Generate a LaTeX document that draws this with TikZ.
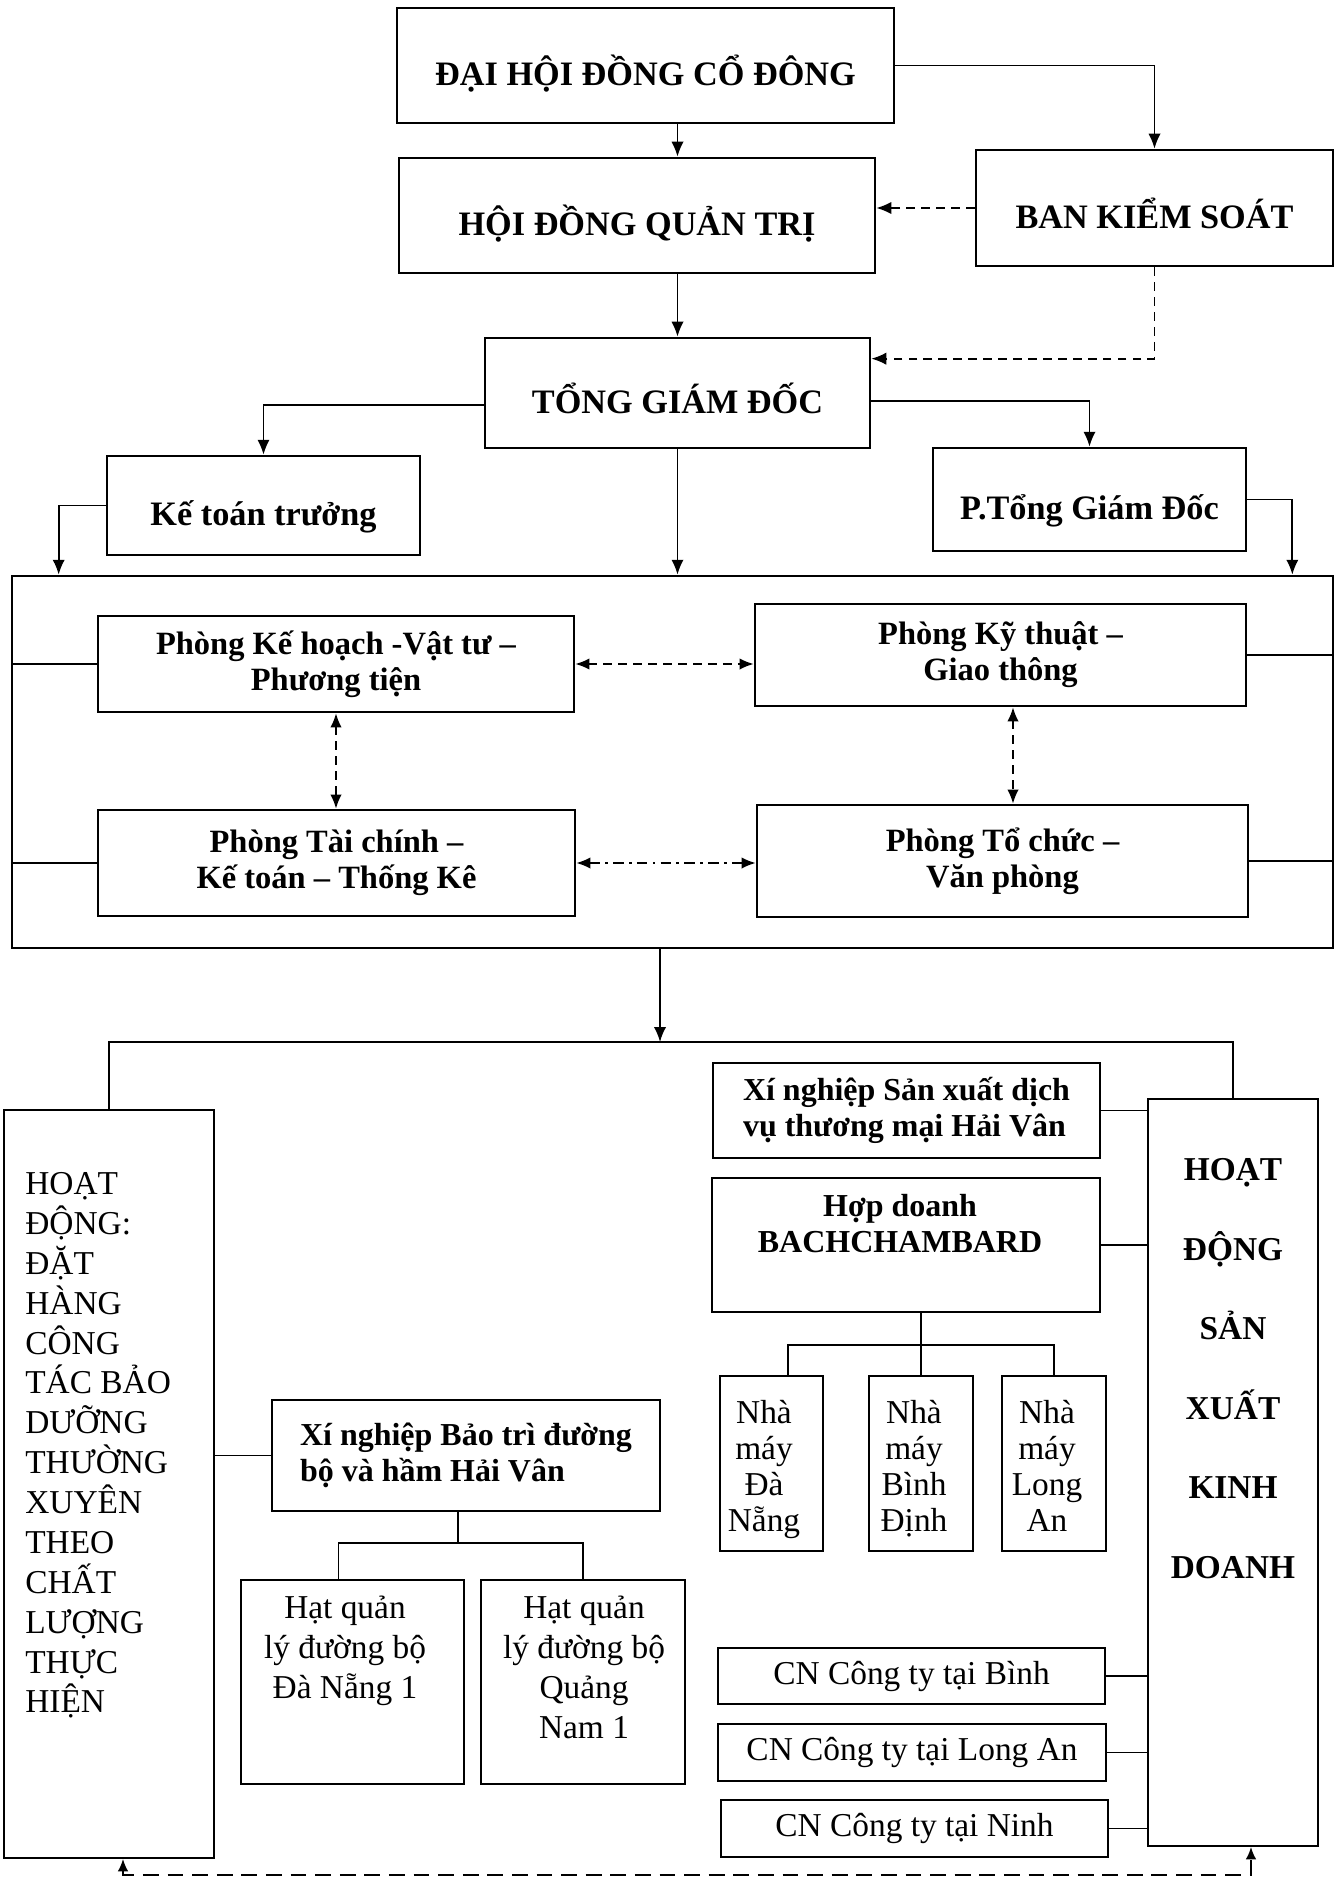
\documentclass[tikz,border=0pt]{standalone}
\usepackage{fontspec}
\setmainfont{Liberation Serif}
\usetikzlibrary{arrows.meta,positioning}

\newcommand\fhead{\bfseries\fontsize{19.5}{23}\selectfont}
\newcommand\fphong{\bfseries\fontsize{18.5}{20.4}\selectfont}
\newcommand\fsubb{\bfseries\fontsize{18.2}{20.4}\selectfont}
\newcommand\fsubr{\fontsize{19}{22.7}\selectfont}

\tikzset{
  lbox/.style 2 args={draw, line width=1.1pt, minimum width=#1*0.02cm, minimum height=#2*0.02cm, inner sep=0pt},
  ubox/.style 2 args={lbox={#1}{#2}, line width=1.5pt},
  headtxt/.style={font=\fhead, text height=23pt, text depth=0pt},
  phong/.style={font=\fphong, align=center},
  sublft/.style={font=\fsubb, align=left},
  cntxt/.style={font=\fsubr},
  lnk/.style={line width=1pt},
  arr/.style={lnk, -{Latex[length=8.5pt,width=7pt]}},
  darr/.style={arr, dash pattern=on 5pt off 3.5pt},
  dbl/.style={lnk, {Latex[length=8pt,width=6.5pt]}-{Latex[length=8pt,width=6.5pt]}, dash pattern=on 5pt off 3.5pt},
  dbldot/.style={dbl, dash pattern=on 6pt off 3pt on 1.5pt off 3pt},
  bdash/.style={lnk, dash pattern=on 9pt off 5pt}
}

\begin{document}
\begin{tikzpicture}[x=0.02cm, y=-0.02cm]
	\fill[white] (0,0) rectangle (1343,1882);
	\useasboundingbox (0,0) rectangle (1343,1882);

	% upper part
	\node[ubox={497}{115}, headtxt] (dh) at (645.5,65.5) {ĐẠI HỘI ĐỒNG CỔ ĐÔNG};
	\node[ubox={476}{115}, headtxt] (hd) at (637,215.5) {HỘI ĐỒNG QUẢN TRỊ};
	\node[ubox={357}{116}, headtxt] (bks) at (1154.5,208) {BAN KIỂM SOÁT};
	\node[ubox={385}{110}, headtxt] (tgd) at (677.5,393) {TỔNG GIÁM ĐỐC};
	\node[ubox={313}{99}, headtxt] (ktt) at (263.5,505.5) {Kế toán trưởng};
	\node[ubox={313}{103}, headtxt] (ptgd) at (1089.5,499.5) {P.Tổng Giám Đốc};

	\node[ubox={1321}{372}] (khoi) at (672.5,762) {};
	\node[ubox={476}{96}, phong] (pkh) at (336,664) {Phòng Kế hoạch -Vật tư –\\Phương tiện};
	\node[ubox={491}{102}, phong] (pkt) at (1000.5,655) {Phòng Kỹ thuật –\\Giao thông};
	\node[ubox={477}{106}, phong] (ptc) at (336.5,863) {Phòng Tài chính –\\Kế toán – Thống Kê};
	\node[ubox={491}{112}, phong] (pvp) at (1002.5,861) {Phòng Tổ chức –\\Văn phòng};

	\draw[arr] (dh.south -| tgd) -- (hd.north -| tgd);
	\draw[arr] (dh.east) -| (bks.north);
	\draw[darr] (bks.west) -- (hd.east |- bks.west);
	\draw[arr] (hd.south -| tgd) -- (tgd.north);
	\draw[darr] (bks.south) |- ([yshift=-0.44cm]tgd.north east);
	\draw[arr] ([yshift=-0.24cm]tgd.west) -| (ktt.north);
	\draw[arr] ([yshift=-0.16cm]tgd.east) -| (ptgd.north);
	\draw[arr] (tgd.south) -- (tgd.south |- khoi.north);
	\draw[arr] (ktt.west) -| ([xshift=0.96cm]khoi.north west);
	\draw[arr] (ptgd.east) -| ([xshift=-0.84cm]khoi.north east);

	\draw[lnk] (pkh.west) -- (pkh.west -| khoi.west);
	\draw[lnk] (ptc.west) -- (ptc.west -| khoi.west);
	\draw[lnk] (pkt.east) -- (pkt.east -| khoi.east);
	\draw[lnk] (pvp.east) -- (pvp.east -| khoi.east);
	\draw[dbl] (pkh.east) -- (pkh.east -| pkt.west);
	\draw[dbldot] (ptc.east) -- (ptc.east -| pvp.west);
	\draw[dbl] (pkh.south) -- (pkh.south |- ptc.north);
	\draw[dbl] ([xshift=0.25cm]pkt.south) -- ([xshift=0.25cm]pkt.south |- pvp.north);

	% lower part
	\node[lbox={210}{748}] (hdtx) at (109,1484) {};
	\node[anchor=north west, align=left, font=\fsubr, inner sep=0pt] (hdtx-t) at (25,1172)
		{HOẠT\\ĐỘNG:\\ĐẶT\\HÀNG\\CÔNG\\TÁC BẢO\\DƯỠNG\\THƯỜNG\\XUYÊN\\THEO\\CHẤT\\LƯỢNG\\THỰC\\HIỆN};

	\node[lbox={388}{111}, sublft] (xnbt) at (466,1455.5) {Xí nghiệp Bảo trì đường\\bộ và hầm Hải Vân};
	\node[lbox={223}{204}] (hat1) at (352.5,1682) {};
	\node[anchor=north, align=center, font=\fsubr, inner sep=0pt] (hat1-t) at (345,1596) {Hạt quản\\lý đường bộ\\Đà Nẵng 1};
	\node[lbox={204}{204}] (hat2) at (583,1682) {};
	\node[anchor=north, align=center, font=\fsubr, inner sep=0pt] (hat2-t) at (584,1596) {Hạt quản\\lý đường bộ\\Quảng\\Nam 1};

	\node[lbox={387}{95}, sublft] (xnsx) at (906.5,1110.5) {Xí nghiệp Sản xuất dịch\\vụ thương mại Hải Vân};
	\node[lbox={388}{134}] (hop) at (906,1245) {};
	\node[anchor=north, align=center, font=\fsubb, inner sep=0pt] (hop-t) at (900,1194) {Hợp doanh\\BACHCHAMBARD};

	\node[lbox={103}{175}] (nm1) at (771.5,1463.5) {};
	\node[lbox={104}{175}] (nm2) at (921,1463.5) {};
	\node[lbox={104}{175}] (nm3) at (1054,1463.5) {};
	\node[anchor=north, align=center, font=\fontsize{19}{20.4}\selectfont, inner sep=0pt] (nm1-t) at (764,1400) {Nhà\\máy\\Đà\\Nẵng};
	\node[anchor=north, align=center, font=\fontsize{19}{20.4}\selectfont, inner sep=0pt] (nm2-t) at (914,1400) {Nhà\\máy\\Bình\\Định};
	\node[anchor=north, align=center, font=\fontsize{19}{20.4}\selectfont, inner sep=0pt] (nm3-t) at (1047,1400) {Nhà\\máy\\Long\\An};

	\node[lbox={387}{56}, cntxt] (cn1) at (911.5,1676) {CN Công ty tại Bình};
	\node[lbox={388}{57}, cntxt] (cn2) at (912,1752.5) {CN Công ty tại Long An};
	\node[lbox={387}{57}, cntxt] (cn3) at (914.5,1828.5) {CN Công ty tại Ninh};

	\node[lbox={170}{747}] (hdsx) at (1233,1472.5) {};
	\node[anchor=north, align=center, font=\bfseries\fontsize{19}{45.3}\selectfont, inner sep=0pt] (hdsx-t) at (1233,1158)
		{HOẠT\\ĐỘNG\\SẢN\\XUẤT\\KINH\\DOANH};

	\coordinate (bus) at (660,1042);
	\coordinate (hb) at (458,1543);
	\coordinate (nb) at (921,1345);
	\coordinate (dl) at (123,1875);
	\coordinate (dr) at (1251,1875);

	\draw[arr] (khoi.south -| bus) -- (bus);
	\draw[lnk] (hdtx.north) |- (bus) -| (hdsx.north);
	\draw[lnk] (xnbt.west) -- (xnbt.west -| hdtx.east);
	\draw[lnk] (xnbt.south -| hb) -- (hb);
	\draw[lnk] ([xshift=-0.28cm]hat1.north) |- (hb) -| (hat2.north);
	\draw[lnk] (hop.south -| nb) -- (nm2.north);
	\draw[lnk] ([xshift=0.33cm]nm1.north) |- (nb) -| (nm3.north);

	\draw[lnk] (xnsx.east) -- (xnsx.east -| hdsx.west);
	\draw[lnk] (hop.east) -- (hop.east -| hdsx.west);
	\draw[lnk] (cn1.east) -- (cn1.east -| hdsx.west);
	\draw[lnk] (cn2.east) -- (cn2.east -| hdsx.west);
	\draw[lnk] (cn3.east) -- (cn3.east -| hdsx.west);

	\draw[bdash, {Latex[length=7pt,width=6pt]}-{Latex[length=7pt,width=6pt]}] (hdtx.south -| dl) -- (dl) -- (dr) -- (hdsx.south -| dr);
\end{tikzpicture}
\end{document}
